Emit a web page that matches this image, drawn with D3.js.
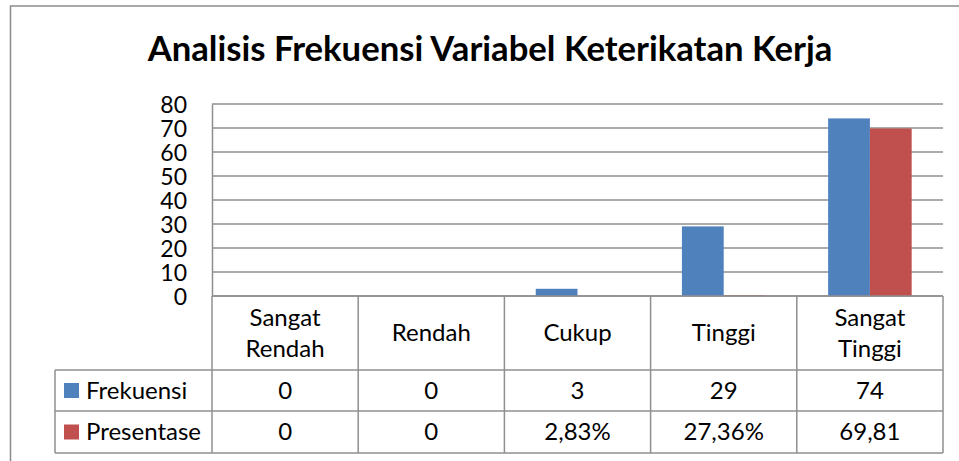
<!DOCTYPE html>
<html>
<head>
<meta charset="utf-8">
<script src="https://cdn.jsdelivr.net/npm/d3@7"></script>
<style>
  body { margin: 0; background: #fff; }
  text { font-family: Lato, "Open Sans", sans-serif; fill: #000; }
</style>
</head>
<body>
<script>
// DATA
// =============================================================================

const title = "Analisis Frekuensi Variabel Keterikatan Kerja";
const categories = ["Sangat Rendah", "Rendah", "Cukup", "Tinggi", "Sangat Tinggi"];
const seriesNames = ["Frekuensi", "Presentase"];
const frekuensi = [0, 0, 3, 29, 74];
const presentase = [0, 0, 0.0283, 0.2736, 69.81];
const frekuensiLabels = ["0", "0", "3", "29", "74"];
const presentaseLabels = ["0", "0", "2,83%", "27,36%", "69,81"];
const yTicks = [0, 10, 20, 30, 40, 50, 60, 70, 80];

// CONFIG
// =============================================================================

const width = 959;
const height = 461;
const plot = { left: 212, right: 943, top: 104, bottom: 296 };
const table = { left: 55, headerBottom: 370, row1Bottom: 411, row2Bottom: 453 };
const colors = ["#4F81BD", "#C0504D"];
const gridColor = "#8f8f8f";
const fontSize = 24;
const tickFontSize = 23;

// SCALES
// =============================================================================

const x0 = d3.scaleBand()
    .domain(categories)
    .range([plot.left, plot.right])
    .padding(0);

// gap between groups is 150% of a bar
const x1 = d3.scaleBand()
    .domain(seriesNames)
    .range([0, x0.bandwidth()])
    .paddingInner(0)
    .paddingOuter(0.75);

const y = d3.scaleLinear()
    .domain([0, 80])
    .range([plot.bottom, plot.top]);

// SVG
// =============================================================================

const svg = d3.select("body")
    .append("svg")
    .attr("width", width)
    .attr("height", height);

// outer chart border (runs off the right and bottom of the picture)
svg.append("rect")
    .attr("x", 10.5)
    .attr("y", 6)
    .attr("width", 980)
    .attr("height", 500)
    .attr("fill", "none")
    .attr("stroke", "#8c8c8c")
    .attr("stroke-width", 1.5);

// title, fitted to the width it has in the reference
const titleText = svg.append("text")
    .attr("x", 490)
    .attr("y", 61)
    .attr("text-anchor", "middle")
    .style("font-size", "31px")
    .style("font-weight", "bold")
    .text(title);
const tw = titleText.node().getComputedTextLength();
titleText.style("font-size", (31 * 685 / tw) + "px");

// GRID + Y AXIS
// =============================================================================

svg.append("g")
    .selectAll("line")
    .data(yTicks)
    .join("line")
    .attr("x1", plot.left)
    .attr("x2", plot.right)
    .attr("y1", d => y(d))
    .attr("y2", d => y(d))
    .attr("stroke", gridColor)
    .attr("stroke-width", 1.5);

const yAxis = svg.append("g")
    .attr("transform", `translate(${plot.left},0)`)
    .call(d3.axisLeft(y).tickValues(yTicks).tickSize(0).tickPadding(25));
yAxis.select(".domain").attr("stroke", gridColor).attr("stroke-width", 1.5);
yAxis.selectAll("text")
    .style("font-family", "Lato, sans-serif")
    .style("font-size", tickFontSize + "px")
    .attr("dy", "0.35em");

// BARS
// =============================================================================

const values = [frekuensi, presentase];

svg.append("g")
    .selectAll("g")
    .data(seriesNames)
    .join("g")
    .attr("fill", (d, i) => colors[i])
    .selectAll("rect")
    .data((s, si) => categories.map((c, ci) => ({ series: s, cat: c, value: values[si][ci] })))
    .join("rect")
    .attr("x", d => x0(d.cat) + x1(d.series))
    .attr("width", x1.bandwidth())
    .attr("y", d => y(d.value))
    .attr("height", d => y(0) - y(d.value));

// DATA TABLE
// =============================================================================

const grid = svg.append("g")
    .attr("stroke", gridColor)
    .attr("stroke-width", 1.5);

// horizontal row lines
grid.append("line")
    .attr("x1", plot.left).attr("x2", plot.right)
    .attr("y1", plot.bottom).attr("y2", plot.bottom);
[table.headerBottom, table.row1Bottom, table.row2Bottom].forEach(v => grid.append("line")
    .attr("x1", table.left).attr("x2", plot.right).attr("y1", v).attr("y2", v));

// vertical column lines
const colEdges = categories.map(c => x0(c)).concat([plot.right]);
grid.selectAll(".col")
    .data(colEdges)
    .join("line")
    .attr("x1", d => d).attr("x2", d => d)
    .attr("y1", plot.bottom).attr("y2", table.row2Bottom);
grid.append("line")
    .attr("x1", table.left).attr("x2", table.left)
    .attr("y1", table.headerBottom).attr("y2", table.row2Bottom);

// header labels
const header = svg.append("g")
    .selectAll("text")
    .data(categories)
    .join("text")
    .attr("text-anchor", "middle")
    .style("font-size", fontSize + "px")
    .attr("x", d => x0(d) + x0.bandwidth() / 2)
    .attr("y", (plot.bottom + table.headerBottom) / 2);

header.each(function(d) {
    const words = d.split(" ");
    const lineH = 31;
    const t = d3.select(this);
    words.forEach((w, i) => {
        t.append("tspan")
            .attr("x", x0(d) + x0.bandwidth() / 2)
            .attr("dy", i === 0 ? (0.35 * fontSize - (words.length - 1) * lineH / 2) : lineH)
            .text(w);
    });
});

// value rows
const rows = [
    { name: seriesNames[0], labels: frekuensiLabels, top: table.headerBottom, bottom: table.row1Bottom },
    { name: seriesNames[1], labels: presentaseLabels, top: table.row1Bottom, bottom: table.row2Bottom }
];

rows.forEach((r, ri) => {
    const cy = (r.top + r.bottom) / 2;
    svg.append("rect")
        .attr("x", 64)
        .attr("y", cy - 7.5)
        .attr("width", 15)
        .attr("height", 15)
        .attr("fill", colors[ri]);
    svg.append("text")
        .attr("x", 86)
        .attr("y", cy)
        .attr("dy", "0.35em")
        .style("font-size", fontSize + "px")
        .text(r.name);
    svg.append("g")
        .selectAll("text")
        .data(categories)
        .join("text")
        .attr("x", d => x0(d) + x0.bandwidth() / 2)
        .attr("y", cy)
        .attr("dy", "0.35em")
        .attr("text-anchor", "middle")
        .style("font-size", fontSize + "px")
        .text((d, i) => r.labels[i]);
});
</script>
</body>
</html>
